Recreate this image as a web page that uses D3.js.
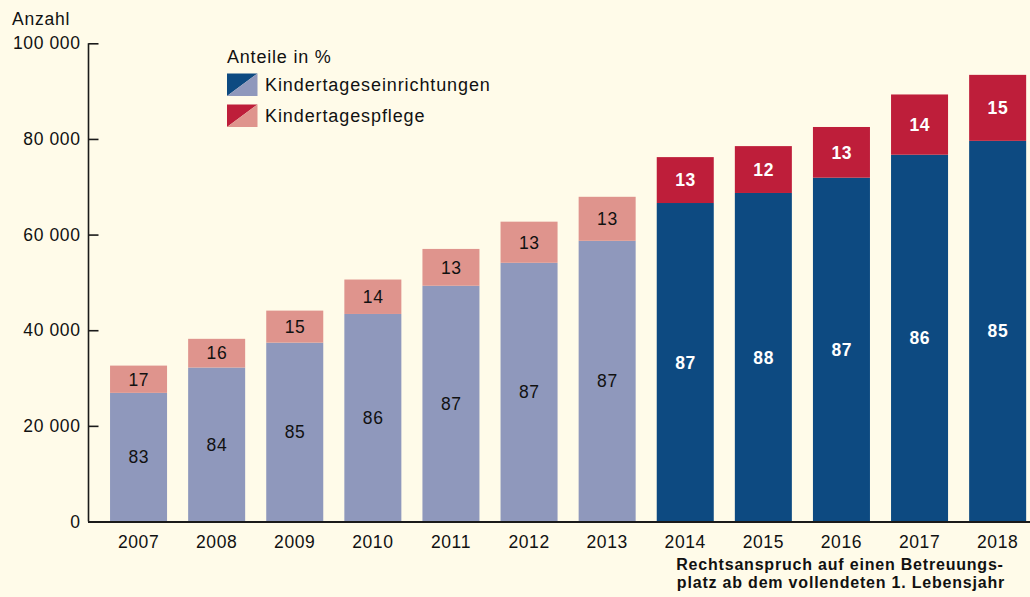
<!DOCTYPE html>
<html><head><meta charset="utf-8">
<script src="https://cdn.jsdelivr.net/npm/d3@7"></script>
<style>
html,body{margin:0;padding:0;background:#fffbe9;}
svg{display:block;font-family:"Liberation Sans",Arial,Helvetica,sans-serif;}
</style></head>
<body>
<svg id="chart" width="1030" height="597"></svg>
<script>
const years = ["2007","2008","2009","2010","2011","2012","2013","2014","2015","2016","2017","2018"];
const einrichtungen = [26900, 32200, 37400, 43400, 49300, 54100, 58700, 66600, 68700, 71900, 76700, 79600];
const pflege = [5700, 6000, 6700, 7200, 7700, 8600, 9200, 9600, 9800, 10600, 12600, 13800];
const einrichtungenPct = [83, 84, 85, 86, 87, 87, 87, 87, 88, 87, 86, 85];
const pflegePct = [17, 16, 15, 14, 13, 13, 13, 13, 12, 13, 14, 15];
const yTicks = [0, 20000, 40000, 60000, 80000, 100000];
const legendLabels = ["Kindertageseinrichtungen", "Kindertagespflege"];
const rechtsanspruchFrom = "2014";

const colors = {
  einDark: "#0d4a81", einLight: "#8f98bc",
  pfDark: "#be1e3a", pfLight: "#df948d"
};

const svg = d3.select("#chart");
const W = 1030, H = 597;
svg.append("rect").attr("width", W).attr("height", H).attr("fill", "#fffbe9");

const x = d3.scaleBand().domain(years).range([99.5, 1036.7]).paddingInner(0.27).paddingOuter(0.135);
const y = d3.scaleLinear().domain([0, 100000]).range([521.5, 43.3]);

const fmt = v => d3.format(",")(v).replace(/,/g, " ");

const data = years.map((yr, i) => ({
  year: yr, ein: einrichtungen[i], pf: pflege[i],
  einPct: einrichtungenPct[i], pfPct: pflegePct[i],
  dark: +yr >= +rechtsanspruchFrom
}));

// bars
const g = svg.append("g");
const bars = g.selectAll("g.bar").data(data).join("g").attr("class", "bar");
bars.append("rect")
  .attr("x", d => x(d.year)).attr("width", x.bandwidth())
  .attr("y", d => y(d.ein)).attr("height", d => y(0) - y(d.ein))
  .attr("fill", d => d.dark ? colors.einDark : colors.einLight);
bars.append("rect")
  .attr("x", d => x(d.year)).attr("width", x.bandwidth())
  .attr("y", d => y(d.ein + d.pf)).attr("height", d => y(d.ein) - y(d.ein + d.pf))
  .attr("fill", d => d.dark ? colors.pfDark : colors.pfLight);

// labels
function segLabel(sel, yFn, txtFn) {
  sel.append("text")
    .attr("x", d => x(d.year) + x.bandwidth() / 2 + 0.3)
    .attr("y", yFn)
    .attr("dy", "0.36em").attr("text-anchor", "middle")
    .attr("font-size", 17.5).attr("letter-spacing", 0.6)
    .attr("font-weight", d => d.dark ? "bold" : "normal")
    .attr("fill", d => d.dark ? "#ffffff" : "#111111")
    .text(txtFn);
}
segLabel(bars, d => (y(0) + y(d.ein)) / 2, d => d.einPct);
segLabel(bars, d => (y(d.ein) + y(d.ein + d.pf)) / 2, d => d.pfPct);

// y axis
const yAxis = svg.append("g").attr("transform", "translate(88.5,0)")
  .call(d3.axisRight(y).tickValues(yTicks).tickSize(10).tickFormat(() => ""));
yAxis.select(".domain").attr("stroke", "#1a1a1a").attr("stroke-width", 1.6)
  .attr("d", `M0,${y(100000)}V${y(0)}`);
yAxis.selectAll(".tick line").attr("stroke", "#1a1a1a").attr("stroke-width", 1.6);
svg.append("g").selectAll("text").data(yTicks).join("text")
  .attr("x", 80.5).attr("y", d => y(d)).attr("dy", "0.35em")
  .attr("text-anchor", "end").attr("font-size", 17.5).attr("letter-spacing", 0.6).attr("fill", "#111")
  .text(d => fmt(d));
svg.append("text").attr("x", 12).attr("y", 25).attr("font-size", 17.5).attr("letter-spacing", 0.8)
  .attr("fill", "#111").text("Anzahl");

// x axis
const xAxis = svg.append("g").attr("transform", `translate(0,${y(0) + 0.5})`)
  .call(d3.axisBottom(x).tickSize(0).tickPadding(14));
xAxis.select(".domain").attr("stroke", "#1a1a1a").attr("stroke-width", 1.8)
  .attr("d", `M88,0H1030`);
xAxis.selectAll(".tick text").attr("font-size", 17.5).attr("letter-spacing", 0.6).attr("fill", "#111")
  .attr("font-family", "Liberation Sans, Arial, sans-serif");

// footnote
const foot = svg.append("text").attr("text-anchor", "middle").attr("font-size", 16)
  .attr("letter-spacing", 0.8).attr("font-weight", "bold").attr("fill", "#111");
foot.append("tspan").attr("x", 840).attr("y", 570).text("Rechtsanspruch auf einen Betreuungs-");
foot.append("tspan").attr("x", 841).attr("y", 588).text("platz ab dem vollendeten 1. Lebensjahr");

// legend
const leg = svg.append("g");
leg.append("text").attr("x", 227).attr("y", 63).attr("font-size", 18).attr("letter-spacing", 0.8)
  .attr("fill", "#111").text("Anteile in %");
const legItems = [
  {label: legendLabels[0], dark: colors.einDark, light: colors.einLight, y: 73.5},
  {label: legendLabels[1], dark: colors.pfDark, light: colors.pfLight, y: 104.5}
];
legItems.forEach(it => {
  const sx = 227, sw = 30.5, sh = 22.5;
  leg.append("path").attr("d", `M${sx},${it.y}H${sx + sw}L${sx},${it.y + sh}Z`).attr("fill", it.dark);
  leg.append("path").attr("d", `M${sx + sw},${it.y}V${it.y + sh}H${sx}Z`).attr("fill", it.light);
  leg.append("text").attr("x", 265).attr("y", it.y + sh / 2).attr("dy", "0.36em")
    .attr("font-size", 18).attr("letter-spacing", 0.9).attr("fill", "#111").text(it.label);
});
</script>
</body></html>
